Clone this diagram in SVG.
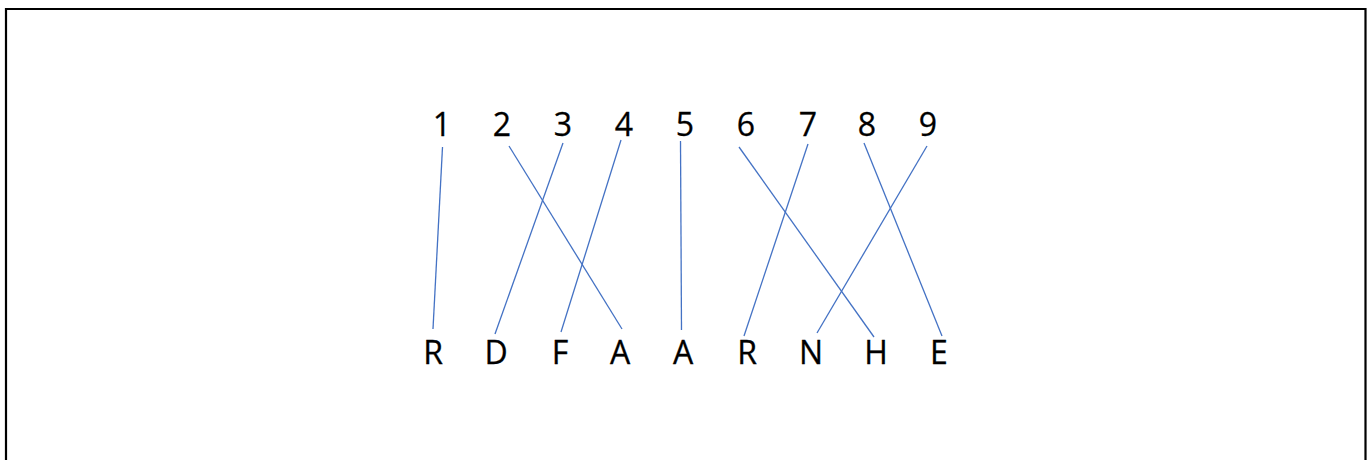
<svg xmlns="http://www.w3.org/2000/svg" width="1371" height="460" viewBox="0 0 1371 460">
  <style>
    .lbl { font-family: "Open Sans", "Liberation Sans", sans-serif; font-size: 32px; fill: #000; stroke: #000; stroke-width: 0.3; text-anchor: middle; }
    .wire { stroke: #4472C4; stroke-width: 1.3; fill: none; }
  </style>
  <rect x="0" y="0" width="1371" height="460" fill="#fff"/>
  <!-- frame, open at the bottom edge -->
  <path d="M6,470 V9 H1365.5 V470" fill="none" stroke="#000" stroke-width="2.2"/>

  <g id="top-row">
    <g id="n1"><text class="lbl" x="442" y="136">1</text></g>
    <g id="n2"><text class="lbl" x="502" y="136">2</text></g>
    <g id="n3"><text class="lbl" x="563" y="136">3</text></g>
    <g id="n4"><text class="lbl" x="624" y="136">4</text></g>
    <g id="n5"><text class="lbl" x="685" y="136">5</text></g>
    <g id="n6"><text class="lbl" x="746" y="136">6</text></g>
    <g id="n7"><text class="lbl" x="808" y="136">7</text></g>
    <g id="n8"><text class="lbl" x="867" y="136">8</text></g>
    <g id="n9"><text class="lbl" x="928" y="136">9</text></g>
  </g>

  <g id="bottom-row">
    <g id="l1"><text class="lbl" x="433" y="364">R</text></g>
    <g id="l2"><text class="lbl" x="496" y="364">D</text></g>
    <g id="l3"><text class="lbl" x="560" y="364">F</text></g>
    <g id="l4"><text class="lbl" x="620" y="364">A</text></g>
    <g id="l5"><text class="lbl" x="683" y="364">A</text></g>
    <g id="l6"><text class="lbl" x="747" y="364">R</text></g>
    <g id="l7"><text class="lbl" x="811" y="364">N</text></g>
    <g id="l8"><text class="lbl" x="876" y="364">H</text></g>
    <g id="l9"><text class="lbl" x="939" y="364">E</text></g>
  </g>

  <g id="connectors">
    <line class="wire" x1="442.5" y1="147" x2="433" y2="329"/>
    <line class="wire" x1="509" y1="146" x2="622" y2="329"/>
    <line class="wire" x1="563" y1="143" x2="495" y2="334"/>
    <line class="wire" x1="621" y1="140" x2="561" y2="332"/>
    <line class="wire" x1="680.5" y1="141" x2="681.5" y2="330"/>
    <line class="wire" x1="739" y1="147" x2="874" y2="337"/>
    <line class="wire" x1="808" y1="144" x2="744" y2="336"/>
    <line class="wire" x1="864" y1="143" x2="942" y2="336"/>
    <line class="wire" x1="927" y1="146" x2="817" y2="333"/>
  </g>
</svg>
